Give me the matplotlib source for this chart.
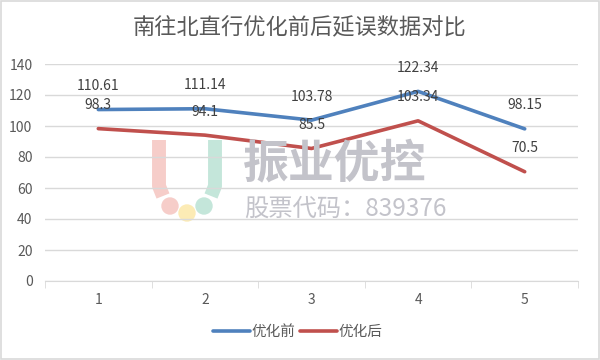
import matplotlib
matplotlib.use("Agg")
import matplotlib.pyplot as plt
from matplotlib.patches import Circle, FancyBboxPatch
from matplotlib.lines import Line2D

plt.rcParams['font.family'] = ['Noto Sans CJK SC', 'DejaVu Sans']

title = "南往北直行优化前后延误数据对比"
categories = ["1", "2", "3", "4", "5"]
series_names = ["优化前", "优化后"]
before = [110.61, 111.14, 103.78, 122.34, 98.15]
after = [98.3, 94.1, 85.5, 103.34, 70.5]
before_labels = ["110.61", "111.14", "103.78", "122.34", "98.15"]
after_labels = ["98.3", "94.1", "85.5", "103.34", "70.5"]
yticks = [0, 20, 40, 60, 80, 100, 120, 140]

blue = "#4F81BD"
red = "#C0504D"

W, H = 600, 360
fig = plt.figure(figsize=(6, 3.6), dpi=100)
ax = fig.add_axes([45/W, 1-281/H, (578-45)/W, (281-64)/H])

x = list(range(len(categories)))

# ---- watermark (decorative) ----
wm_color = "#c3c3ca"
fig.text(243/W, 1-164/H, "振业优控", fontsize=33, color=wm_color,
         va="center", ha="left", fontweight="bold", zorder=0)
fig.text(244/W, 1-209/H, "股票代码：839376", fontsize=17.5, color=wm_color,
         va="center", ha="left", zorder=0)
pt = fig.dpi_scale_trans
def px(xp, yp):
    return xp / 100, (H - yp) / 100
pink, yellow, green = "#f6cdc9", "#fcebb5", "#c4e6da"
xs, ys = zip(*[px(159, 140), px(159, 186), px(163, 196)])
fig.add_artist(Line2D(xs, ys, lw=10, color=pink, transform=pt, solid_capstyle="butt",
                      solid_joinstyle="round", zorder=0))
xs, ys = zip(*[px(215, 140), px(215, 186), px(211, 196)])
fig.add_artist(Line2D(xs, ys, lw=10, color=green, transform=pt, solid_capstyle="butt",
                      solid_joinstyle="round", zorder=0))
for cx, cy, col in [(170, 206, pink), (187, 213, yellow), (204, 206, green)]:
    fig.add_artist(Circle(px(cx, cy), radius=8/100, transform=pt, color=col, zorder=0))

# ---- data ----
ax.plot(x, before, color=blue, lw=2.6, label=series_names[0], zorder=3, solid_capstyle="round")
ax.plot(x, after, color=red, lw=2.6, label=series_names[1], zorder=3, solid_capstyle="round")

for xi, v, t in zip(x, before, before_labels):
    ax.annotate(t, (xi, v), xytext=(0, 17), textcoords="offset points", ha="center",
                va="center", fontsize=10, color="#404040", zorder=4)
for xi, v, t in zip(x, after, after_labels):
    ax.annotate(t, (xi, v), xytext=(0, 17), textcoords="offset points", ha="center",
                va="center", fontsize=10, color="#404040", zorder=4)

ax.set_xlim(-0.5, len(categories) - 0.5)
ax.set_ylim(0, 140)
ax.set_yticks(yticks)
ax.set_yticklabels([str(v) for v in yticks])
ax.set_xticks(x)
ax.set_xticklabels(categories)
ax.yaxis.grid(True, color="#d9d9d9", lw=1)
ax.set_axisbelow(True)
for s in ["top", "right", "left"]:
    ax.spines[s].set_visible(False)
ax.spines["bottom"].set_color("#d9d9d9")
ax.tick_params(axis="y", length=0, labelsize=10, labelcolor="#595959", pad=9)
ax.tick_params(axis="x", length=0, labelsize=10, labelcolor="#595959", pad=9)
ax.set_xticks([i - 0.5 for i in range(len(categories) + 1)], minor=True)
ax.tick_params(axis="x", which="minor", length=5, color="#d9d9d9")
ax.patch.set_alpha(0)

fig.suptitle(title, y=1-28/H, fontsize=16, color="#595959", va="center")

fig.legend(loc="center", bbox_to_anchor=(298/W, 1-332/H), ncol=2, frameon=False,
           fontsize=10.5, labelcolor="#595959", handlelength=2.5, columnspacing=0.3,
           handletextpad=0.15)

border = FancyBboxPatch((0.002, 0.003), 0.996, 0.994, boxstyle="square,pad=0",
                        transform=fig.transFigure, fill=False, ec="#d9d9d9", lw=1.2)
fig.add_artist(border)

fig.savefig("out.png", dpi=100)
